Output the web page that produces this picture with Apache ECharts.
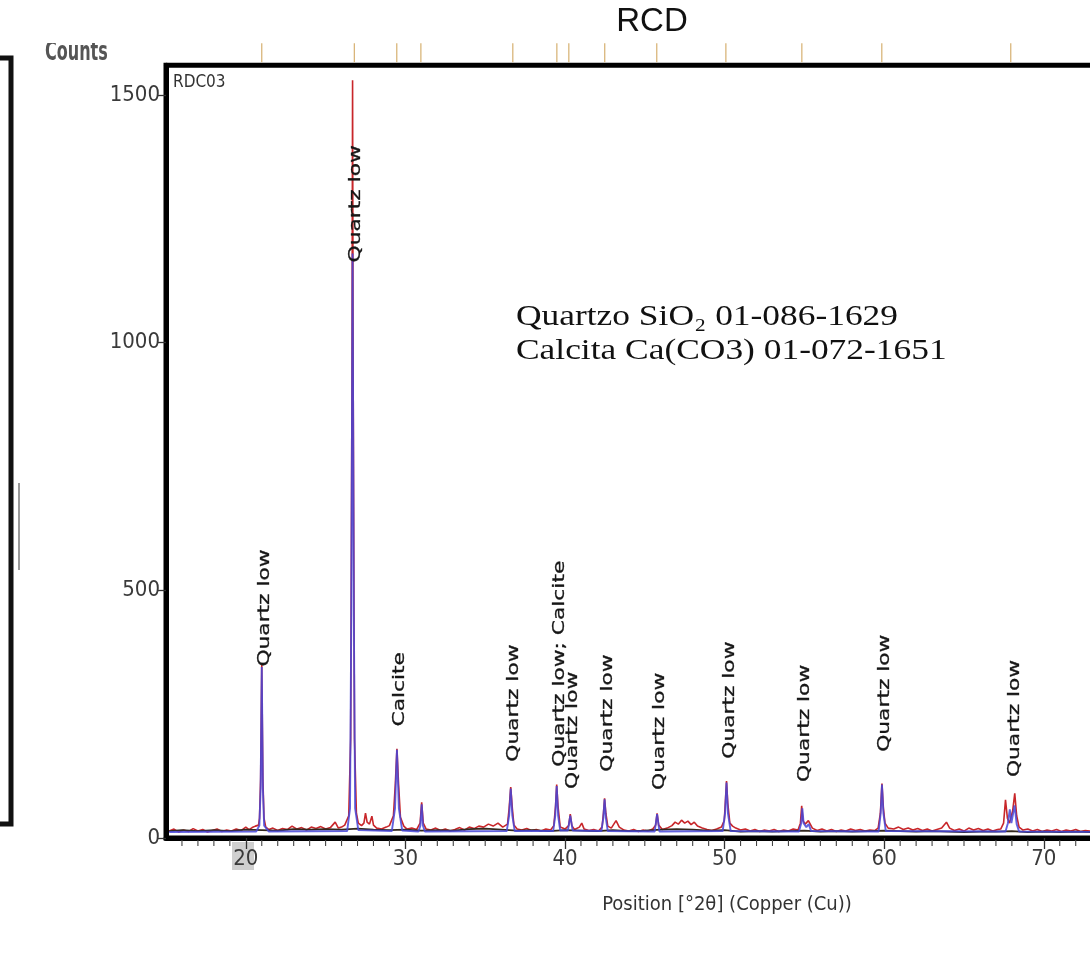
<!DOCTYPE html>
<html>
<head>
<meta charset="utf-8">
<script src="https://cdn.jsdelivr.net/npm/echarts@6/dist/echarts.min.js"></script>
<style>
html,body{margin:0;padding:0;background:#fff;}
#chart{width:1090px;height:954px;}
</style>
</head>
<body>
<div id="chart"></div>
<script>
// ---------- DATA ----------
const xTickLabels = [20, 30, 40, 50, 60, 70];
const xMinorTicks = [16,17,18,19,21,22,23,24,25,26,27,28,29,31,32,33,34,35,36,37,38,39,41,42,43,44,45,46,47,48,49,51,52,53,54,55,56,57,58,59,61,62,63,64,65,66,67,68,69,71,72,73,74];
const yTickLabels = [0, 500, 1000, 1500];

// observed counts (red), [2theta, counts]
const observed = [
[15.2,14],[15.5,18],[15.8,12],[16.1,16],[16.4,13],[16.7,19],[17.0,14],[17.3,17],[17.6,12],[17.9,15],
[18.2,18],[18.5,13],[18.8,16],[19.1,14],[19.4,18],[19.7,15],[20.0,22],[20.2,17],[20.4,21],[20.6,24],
[20.8,26],[20.86,40],[20.93,120],[21.0,350],[21.07,120],[21.14,40],[21.25,22],[21.45,17],[21.7,20],[22.0,15],[22.3,19],
[22.6,17],[22.9,24],[23.2,18],[23.5,21],[23.8,16],[24.1,22],[24.4,19],[24.7,23],[25.0,18],[25.3,21],
[25.6,32],[25.8,20],[26.0,22],[26.2,26],[26.45,45],[26.57,200],[26.65,900],[26.69,1530],[26.73,900],[26.81,200],
[26.93,50],[27.05,30],[27.25,25],[27.4,30],[27.5,50],[27.6,32],[27.75,28],[27.9,44],[28.0,26],[28.2,20],
[28.5,18],[28.8,22],[29.0,25],[29.25,45],[29.37,110],[29.47,180],[29.57,110],[29.69,42],[29.9,24],[30.1,18],
[30.4,20],[30.7,17],[30.92,30],[31.02,72],[31.12,30],[31.3,18],[31.6,16],[31.9,20],[32.2,15],[32.5,18],
[32.8,14],[33.1,17],[33.4,21],[33.7,16],[34.0,22],[34.3,19],[34.6,24],[34.9,22],[35.2,28],[35.5,24],
[35.8,30],[36.1,22],[36.4,28],[36.5,60],[36.6,103],[36.7,60],[36.8,26],[37.0,18],[37.3,16],[37.6,19],
[37.9,15],[38.2,17],[38.5,14],[38.8,18],[39.1,16],[39.3,25],[39.41,65],[39.48,108],[39.56,65],[39.7,22],
[40.0,18],[40.23,25],[40.33,48],[40.43,25],[40.6,17],[40.9,22],[41.05,30],[41.2,18],[41.5,15],[41.8,17],
[42.1,14],[42.32,22],[42.41,50],[42.48,80],[42.56,50],[42.68,24],[42.9,20],[43.2,35],[43.4,22],[43.7,16],
[44.0,14],[44.3,17],[44.6,13],[44.9,16],[45.2,14],[45.5,18],[45.68,26],[45.77,50],[45.87,26],[46.1,17],
[46.4,20],[46.7,25],[46.9,32],[47.1,28],[47.3,36],[47.5,30],[47.7,34],[47.9,27],[48.1,32],[48.3,24],
[48.6,20],[48.9,17],[49.2,15],[49.5,18],[49.8,22],[49.98,35],[50.06,80],[50.12,115],[50.2,70],[50.33,30],
[50.5,24],[50.7,20],[51.0,16],[51.3,18],[51.6,14],[51.9,17],[52.2,13],[52.5,16],[52.8,14],[53.1,17],
[53.4,13],[53.7,16],[54.0,14],[54.3,18],[54.6,16],[54.75,30],[54.83,65],[54.91,35],[55.05,28],[55.25,35],
[55.5,20],[55.8,15],[56.1,18],[56.4,14],[56.7,17],[57.0,13],[57.3,16],[57.6,14],[57.9,18],[58.2,15],
[58.5,17],[58.8,14],[59.1,16],[59.4,15],[59.62,20],[59.76,50],[59.86,110],[59.95,60],[60.05,30],[60.25,20],
[60.6,18],[60.9,22],[61.2,17],[61.5,20],[61.8,16],[62.1,19],[62.4,15],[62.7,18],[63.0,14],[63.3,17],
[63.6,20],[63.9,32],[64.1,20],[64.4,15],[64.7,18],[65.0,14],[65.3,20],[65.6,16],[65.9,19],[66.2,15],
[66.5,18],[66.8,14],[67.1,17],[67.3,18],[67.48,30],[67.6,77],[67.72,40],[67.85,30],[68.05,55],[68.18,90],
[68.3,45],[68.45,22],[68.7,16],[69.0,18],[69.3,14],[69.6,17],[69.9,13],[70.2,16],[70.5,14],[70.8,17],
[71.1,13],[71.4,16],[71.7,14],[72.0,17],[72.3,13],[72.6,15],[72.9,14],[73.5,16],[74.0,14],[75.0,15]
];

// calculated profile (blue)
const calculated = [
[15.2,12],[20.65,13],[20.85,25],[20.93,100],[21.0,345],[21.07,100],[21.15,25],[21.45,13],
[26.35,14],[26.53,60],[26.61,450],[26.69,1180],[26.77,450],[26.85,60],[27.05,16],
[29.15,14],[29.35,60],[29.47,178],[29.59,60],[29.8,15],
[30.82,13],[30.94,25],[31.02,68],[31.1,25],[31.22,13],
[36.35,14],[36.5,45],[36.6,100],[36.7,45],[36.85,14],
[39.26,14],[39.39,45],[39.48,105],[39.57,45],[39.7,15],
[40.18,15],[40.33,45],[40.48,15],
[42.28,14],[42.4,40],[42.48,78],[42.56,40],[42.68,14],
[45.62,13],[45.77,48],[45.92,13],
[49.88,14],[50.03,50],[50.12,112],[50.21,50],[50.38,14],
[54.66,13],[54.8,30],[54.87,60],[54.95,30],[55.12,22],[55.27,28],[55.42,14],
[59.65,13],[59.78,50],[59.86,108],[59.95,50],[60.1,14],
[67.6,13],[67.75,30],[67.87,58],[67.97,30],[68.05,32],[68.17,66],[68.3,28],[68.45,13],[75.0,12]
];

// background (dark line)
const background = [
[15.2,14],[16,16],[17,14],[18,16],[19,14],[20,17],[21,16],[22,15],[23,18],[24,17],[25,18],[26,17],
[27,19],[28,17],[29,16],[30,17],[31,15],[32,16],[33,15],[34,18],[35,19],[36,17],[37,15],[38,16],
[39,14],[40,16],[41,15],[42,14],[43,16],[44,14],[45,15],[46,17],[47,18],[48,17],[49,15],[50,16],
[51,13],[52,14],[53,13],[54,14],[55,15],[56,13],[57,14],[58,13],[59,14],[60,15],[61,14],[62,13],
[63,14],[64,13],[65,12],[66,13],[67,13],[68,14],[69,12],[70,13],[71,12],[72,13],[73,12],[75,12]
];

// reference pattern stick positions (top markers)
const refPeaks = [21.0, 26.8, 29.46, 30.97, 36.73, 39.49, 40.24, 42.49, 45.75, 50.08, 54.84, 59.85, 67.93];

// peak labels
const peakLabelX = [21.0, 26.69, 29.47, 36.6, 39.48, 40.33, 42.48, 45.77, 50.12, 54.83, 59.86, 68.0];
const peakLabelY = [346, 1162, 225, 154, 144, 99, 134, 97, 160, 113, 174, 123];
const peakLabelText = ['Quartz low','Quartz low','Calcite','Quartz low','Quartz low; Calcite','Quartz low','Quartz low','Quartz low','Quartz low','Quartz low','Quartz low','Quartz low'];

// ---------- CHART ----------
const chart = echarts.init(document.getElementById('chart'), null, {renderer:'canvas'});
const narrow = '"Liberation Sans Narrow","DejaVu Sans Condensed","Arial Narrow",Roboto,sans-serif';

const option = {
  animation: false,
  backgroundColor: '#fff',
  grid: {
    left: 166, right: -33.6, top: 65.3, bottom: 116,
    outerBoundsMode: 'none', containLabel: false,
    show: true, borderColor: '#000', borderWidth: 5, backgroundColor: 'transparent'
  },
  xAxis: {
    type: 'value', min: 15, max: 75, position: 'bottom',
    axisLine: {show: true, onZero: false, lineStyle: {color: '#000', width: 5}},
    axisTick: {show: true, inside: false, length: 11, customValues: xTickLabels, lineStyle: {color: '#333', width: 1.3}},
    axisLabel: {show: true, customValues: xTickLabels, margin: 10, color: '#3a3a3a', fontSize: 22, fontFamily: narrow,
                formatter: v => String(v)},
    splitLine: {show: false}
  },
  yAxis: {
    type: 'value', min: 0, max: 1560,
    axisLine: {show: true, lineStyle: {color: '#000', width: 5}},
    axisTick: {show: true, inside: false, length: 8, customValues: yTickLabels, lineStyle: {color: '#333', width: 1.3}},
    axisLabel: {show: true, customValues: yTickLabels, margin: 6, color: '#3a3a3a', fontSize: 22, fontFamily: narrow,
                formatter: v => String(v)},
    splitLine: {show: false}
  },
  series: [
    {
      name: 'Observed', type: 'line', data: observed, showSymbol: false, z: 3,
      lineStyle: {color: '#c8262a', width: 1.6}
    },
    {
      name: 'Background', type: 'line', data: background, showSymbol: false, z: 4,
      lineStyle: {color: '#33291f', width: 1.8}
    },
    {
      name: 'Calculated', type: 'line', data: calculated, showSymbol: false, z: 5,
      lineStyle: {color: '#4646d8', width: 1.9, opacity: 0.85}
    },
    {
      name: 'Reference', type: 'custom', z: 6, clip: false,
      data: refPeaks.map(p => [p, 1560]),
      renderItem: function (params, api) {
        const p = api.coord([api.value(0), api.value(1)]);
        return {type: 'line', shape: {x1: p[0], y1: p[1] - 3, x2: p[0], y2: p[1] - 22},
                style: {stroke: '#d6b070', lineWidth: 1.2}};
      }
    },
    {
      name: 'MinorTicks', type: 'custom', z: 6, clip: false,
      data: xMinorTicks.map(t => [t, 0]),
      renderItem: function (params, api) {
        const p = api.coord([api.value(0), api.value(1)]);
        return {type: 'line', shape: {x1: p[0], y1: p[1] + 2, x2: p[0], y2: p[1] + 8},
                style: {stroke: '#444', lineWidth: 1.1}};
      }
    },
    {
      name: 'Labels', type: 'custom', z: 7, clip: false,
      data: peakLabelX.map((x, i) => [x, peakLabelY[i]]),
      renderItem: function (params, api) {
        const p = api.coord([api.value(0), api.value(1)]);
        return {type: 'text', x: p[0] + 3, y: p[1], rotation: Math.PI / 2, scaleX: 1.36,
                style: {text: peakLabelText[params.dataIndex], font: '16px "DejaVu Sans"', fill: '#161616',
                        stroke: '#161616', lineWidth: 0.3,
                        align: 'left', verticalAlign: 'middle', textAlign: 'left', textVerticalAlign: 'middle'}};
      }
    }
  ],
  graphic: [
    // left bracket artifact
    {type: 'polyline', shape: {points: [[0, 58], [11, 58], [11, 824], [0, 824]]}, style: {stroke: '#111', lineWidth: 5, fill: null}},
    {type: 'line', shape: {x1: 19, y1: 483, x2: 19, y2: 570}, style: {stroke: '#777', lineWidth: 1.5}},
    // gray highlight under "20"
    {type: 'rect', shape: {x: 232, y: 842, width: 22, height: 28}, style: {fill: '#cfcfcf'}, z: -1},
    // Counts (top cut)
    {type: 'text', x: 45, y: 66, scaleX: 0.66, style: {text: 'Counts', font: 'bold 27px ' + narrow, fill: '#555', textVerticalAlign: 'bottom', verticalAlign: 'bottom'}},
    {type: 'rect', shape: {x: 30, y: 0, width: 100, height: 43}, style: {fill: '#fff'}},
    // title
    {type: 'text', x: 652, y: 22, style: {text: 'RCD', font: '33px "Liberation Sans"', fill: '#111', textAlign: 'center', align: 'center', textVerticalAlign: 'middle', verticalAlign: 'middle'}},
    // sample name
    {type: 'text', x: 173, y: 83, style: {text: 'RDC03', font: '17px ' + narrow, fill: '#333', textVerticalAlign: 'middle', verticalAlign: 'middle'}, z: 10},
    // phase annotation
    {type: 'text', x: 516, y: 317, scaleX: 1.18, style: {text: 'Quartzo SiO\u2082 01-086-1629', font: '30px "Liberation Serif"', fill: '#111', textVerticalAlign: 'middle', verticalAlign: 'middle'}},
    {type: 'text', x: 516, y: 351, scaleX: 1.18, style: {text: 'Calcita Ca(CO3) 01-072-1651', font: '30px "Liberation Serif"', fill: '#111', textVerticalAlign: 'middle', verticalAlign: 'middle'}},
    // x axis title
    {type: 'text', x: 727, y: 905, style: {text: 'Position [°2θ] (Copper (Cu))', font: '20px ' + narrow, fill: '#333', textAlign: 'center', align: 'center', textVerticalAlign: 'middle', verticalAlign: 'middle'}}
  ]
};
chart.setOption(option);
</script>
</body>
</html>
